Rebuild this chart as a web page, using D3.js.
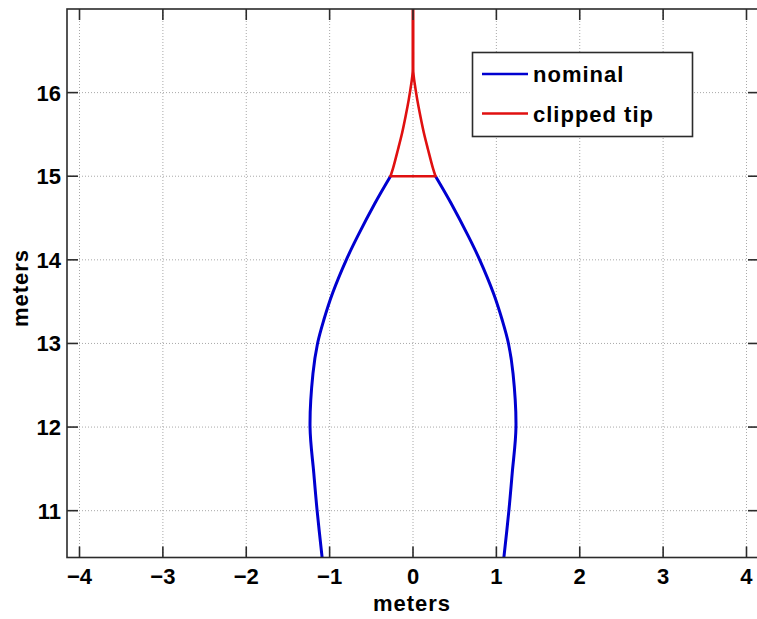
<!DOCTYPE html>
<html>
<head>
<meta charset="utf-8">
<script src="https://cdn.jsdelivr.net/npm/d3@7"></script>
<style>
	body { margin: 0; background: #fff; }
	svg { display: block; font-family: "Liberation Sans", Arial, Helvetica, sans-serif; font-weight: bold; }
</style>
</head>
<body>
<svg width="757" height="619"></svg>
<script>
// profile of the tower, half widths in meters (outline is symmetric about x = 0)
var profileY = [10.44, 11.0, 11.45, 12.0, 12.64, 13.0, 13.28, 13.6, 14.0, 14.28, 14.68, 15.0];
var nominalHalfWidth = [1.09, 1.15, 1.19, 1.235, 1.20, 1.145, 1.07, 0.965, 0.80, 0.665, 0.455, 0.27];

var tipY = [15.0, 15.1, 15.32, 15.52, 15.72, 15.91, 16.11, 16.2, 16.3, 16.6, 17.0];
var tipHalfWidth = [0.27, 0.238, 0.18, 0.13, 0.088, 0.052, 0.02, 0.008, 0, 0, 0];

var xTicks = [-4, -3, -2, -1, 0, 1, 2, 3, 4];
var yTicks = [11, 12, 13, 14, 15, 16];
var legendLabels = ["nominal", "clipped tip"];
var colors = ["#0000d0", "#e01010"];

var svg = d3.select("svg");

var plotLeft = 67, plotTop = 9, plotRight = 759, plotBottom = 557.5;

var x = d3.scaleLinear().domain([-4.15, 4.15]).range([plotLeft, plotRight]);
var y = d3.scaleLinear().domain([10.44, 17]).range([plotBottom, plotTop]);

svg.append("defs").append("clipPath")
	.attr("id", "plotclip")
	.append("rect")
	.attr("x", plotLeft).attr("y", plotTop)
	.attr("width", plotRight - plotLeft).attr("height", plotBottom - plotTop);

// grid
var grid = svg.append("g")
	.attr("stroke", "#a8a8a8")
	.attr("stroke-width", 1)
	.attr("stroke-dasharray", "1,2");

grid.selectAll("line.vx")
	.data(xTicks)
	.enter().append("line")
	.attr("x1", function(d) { return x(d); })
	.attr("x2", function(d) { return x(d); })
	.attr("y1", plotTop)
	.attr("y2", plotBottom);

grid.selectAll("line.hy")
	.data(yTicks)
	.enter().append("line")
	.attr("x1", plotLeft)
	.attr("x2", plotRight)
	.attr("y1", function(d) { return y(d); })
	.attr("y2", function(d) { return y(d); });

// curves
var plot = svg.append("g").attr("clip-path", "url(#plotclip)");

function side(ys, ws, sign) {
	return ys.map(function(v, i) { return [sign * ws[i], v]; });
}

var line = d3.line()
	.x(function(d) { return x(d[0]); })
	.y(function(d) { return y(d[1]); })
	.curve(d3.curveCatmullRom.alpha(0.5));

[-1, 1].forEach(function(s) {
	plot.append("path")
		.attr("d", line(side(profileY, nominalHalfWidth, s)))
		.attr("fill", "none")
		.attr("stroke", colors[0])
		.attr("stroke-width", 3)
		.attr("stroke-linejoin", "round");
});

[-1, 1].forEach(function(s) {
	plot.append("path")
		.attr("d", line(side(tipY, tipHalfWidth, s)))
		.attr("fill", "none")
		.attr("stroke", colors[1])
		.attr("stroke-width", 2.6)
		.attr("stroke-linejoin", "round");
});

plot.append("line")
	.attr("x1", x(-tipHalfWidth[0]))
	.attr("x2", x(tipHalfWidth[0]))
	.attr("y1", y(tipY[0]))
	.attr("y2", y(tipY[0]))
	.attr("stroke", colors[1])
	.attr("stroke-width", 2.6)
	.attr("stroke-linecap", "round");

// axes box and ticks
var axisColor = "#2b2b2b";
var tickLen = 11;

svg.append("rect")
	.attr("x", plotLeft).attr("y", plotTop)
	.attr("width", plotRight - plotLeft).attr("height", plotBottom - plotTop)
	.attr("fill", "none")
	.attr("stroke", axisColor)
	.attr("stroke-width", 1.6);

var ticks = svg.append("g").attr("stroke", axisColor).attr("stroke-width", 1.6);

xTicks.forEach(function(t) {
	ticks.append("line").attr("x1", x(t)).attr("x2", x(t)).attr("y1", plotBottom).attr("y2", plotBottom - tickLen);
	ticks.append("line").attr("x1", x(t)).attr("x2", x(t)).attr("y1", plotTop).attr("y2", plotTop + tickLen);
});
yTicks.forEach(function(t) {
	ticks.append("line").attr("x1", plotLeft).attr("x2", plotLeft + tickLen).attr("y1", y(t)).attr("y2", y(t));
	ticks.append("line").attr("x1", plotRight).attr("x2", plotRight - tickLen).attr("y1", y(t)).attr("y2", y(t));
});

svg.append("g").selectAll("text")
	.data(xTicks)
	.enter().append("text")
	.attr("x", function(d) { return x(d); })
	.attr("y", 584)
	.attr("text-anchor", "middle")
	.attr("font-size", 22)
	.attr("fill", "#000")
	.text(function(d) { return d < 0 ? "\u2212" + Math.abs(d) : d; });

svg.append("g").selectAll("text")
	.data(yTicks)
	.enter().append("text")
	.attr("x", 61)
	.attr("y", function(d) { return y(d) + 8; })
	.attr("text-anchor", "end")
	.attr("font-size", 22)
	.attr("fill", "#000")
	.text(function(d) { return d; });

svg.append("text")
	.attr("x", 412)
	.attr("y", 611)
	.attr("text-anchor", "middle")
	.attr("font-size", 22)
	.attr("letter-spacing", 1)
	.attr("fill", "#000")
	.text("meters");

svg.append("text")
	.attr("transform", "translate(28,288) rotate(-90)")
	.attr("text-anchor", "middle")
	.attr("font-size", 22)
	.attr("letter-spacing", 1)
	.attr("fill", "#000")
	.text("meters");

// legend
var legend = svg.append("g");
legend.append("rect")
	.attr("x", 472.5).attr("y", 52.5)
	.attr("width", 220).attr("height", 84)
	.attr("fill", "#fff")
	.attr("stroke", axisColor)
	.attr("stroke-width", 1.6);

var rows = legend.selectAll("g.row")
	.data(legendLabels)
	.enter().append("g")
	.attr("transform", function(d, i) { return "translate(0," + (74 + i * 39.5) + ")"; });

rows.append("line")
	.attr("x1", 482).attr("x2", 528)
	.attr("y1", 0).attr("y2", 0)
	.attr("stroke", function(d, i) { return colors[i]; })
	.attr("stroke-width", 2.6);

rows.append("text")
	.attr("x", 533)
	.attr("y", 8)
	.attr("font-size", 22)
	.attr("letter-spacing", 1)
	.attr("fill", "#000")
	.text(function(d) { return d; });
</script>
</body>
</html>
